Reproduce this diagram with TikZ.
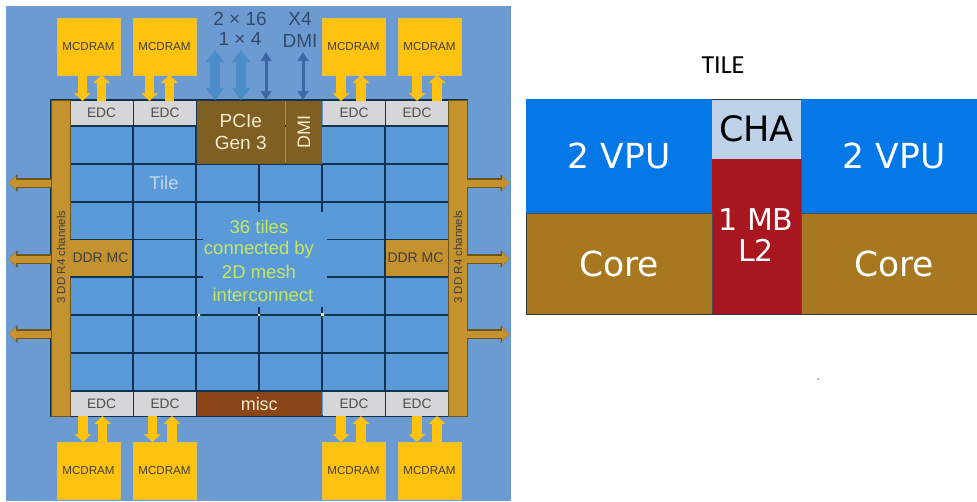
\documentclass[tikz,border=0pt]{standalone}
\usepackage{fontspec}
\setmainfont{Liberation Sans}
\newfontfamily\dvfont{DejaVu Sans}
\newfontfamily\crfont{Carlito}
\usetikzlibrary{arrows.meta,calc}
\newcommand{\fsz}[1]{\fontsize{#1}{#1}\selectfont}
\definecolor{bgblue}{HTML}{6C9BD2}
\definecolor{chipblue}{HTML}{5A9AD8}
\definecolor{gridc}{HTML}{12334F}
\definecolor{gold}{HTML}{C4922E}
\definecolor{golddark}{HTML}{6B5518}
\definecolor{brownbox}{HTML}{806022}
\definecolor{miscc}{HTML}{8B4516}
\definecolor{mcd}{HTML}{FFC20E}
\definecolor{mcdedge}{HTML}{E6BC4A}
\definecolor{edcc}{HTML}{D6D6D8}
\definecolor{cream}{HTML}{F2EBD0}
\definecolor{lime}{HTML}{C6E85E}
\definecolor{pcieb}{HTML}{4C8CC8}
\definecolor{dmib}{HTML}{3C68A6}
\definecolor{labc}{HTML}{34496B}
\definecolor{vpu}{HTML}{0578E8}
\definecolor{corec}{HTML}{A87820}
\definecolor{l2c}{HTML}{A81620}
\definecolor{chac}{HTML}{BDD2E8}
\tikzset{
  x=1pt,y=-1pt,
  every node/.style={inner sep=0pt,outer sep=0pt,align=center},
  boxnw/.style={anchor=north west,minimum width=#1},
  mcdram/.style={boxnw=63pt,minimum height=57pt,fill=mcd,draw=mcdedge,line width=.8pt,text=black!75,font=\fsz{11.6}},
  edc/.style={boxnw=62pt,minimum height=24pt,fill=edcc,text=black!70,font=\fsz{13.7}},
  memarrow/.style={mcd,line width=9.5pt,-{Triangle[width=16.5pt,length=8pt]}},
  pciearrow/.style={pcieb,line width=10pt,{Triangle[width=17.5pt,length=12pt]}-{Triangle[width=17.5pt,length=12pt]}},
  dmiarrow/.style={dmib,line width=3pt,{Triangle[width=10.5pt,length=9pt]}-{Triangle[width=10.5pt,length=9pt]}},
  sidearrow/.style={preaction={draw=golddark,line width=10pt,-{Triangle[width=17pt,length=9pt]}},gold,line width=7pt,shorten >=1.5pt,-{Triangle[width=13.5pt,length=7.5pt]}},
  gridl/.style={gridc,line width=1.6pt},
  toplab/.style={text=labc,font=\fsz{19}},
  barlab/.style={rotate=90,text=black!75,font=\fsz{11.5}},
  meshlab/.style={text=lime,font=\fsz{18.5}},
  speck/.style={fill=lime!60!white}
}
\begin{document}
\begin{tikzpicture}
\useasboundingbox (0,0) rectangle (977,501);
\fill[bgblue] (6,6) rectangle (511,501);
\node[boxnw=416pt,minimum height=316pt,fill=chipblue,draw=gridc,line width=1.2pt] (chip) at (51,100) {};
% grid
\foreach \yy in {126,164,202,315,353,391} \draw[gridl] (70,\yy) -- (448,\yy);
\foreach \yy in {239.5,277} {\draw[gridl] (70,\yy) -- (203,\yy); \draw[gridl] (327,\yy) -- (448,\yy);}
\foreach \xx in {133,196,385} \draw[gridl] (\xx,100) -- (\xx,416);
\foreach \xx in {259,322} {\draw[gridl] (\xx,164) -- (\xx,212); \draw[gridl] (\xx,307) -- (\xx,391);}
\fill[speck] (198,314) rectangle (200,316) (258,314) rectangle (260,316) (321,313) rectangle (324,316);
% side bars
\node[boxnw=19pt,minimum height=316pt,fill=gold,draw=golddark,line width=1pt] (barL) at (51,100) {};
\node[boxnw=19pt,minimum height=316pt,fill=gold,draw=golddark,line width=1pt] (barR) at (448,100) {};
\node[barlab] at (61,257) {3 DD R4 channels};
\node[barlab] at (458,257) {3 DD R4 channels};
% EDC
\node[edc] (e1) at (70.5,101) {EDC};
\node[edc] (e2) at (134,101) {EDC};
\node[edc] (e3) at (323,101) {EDC};
\node[edc] (e4) at (386,101) {EDC};
\node[edc] (e5) at (70.5,392) {EDC};
\node[edc] (e6) at (134,392) {EDC};
\node[edc] (e7) at (323,392) {EDC};
\node[edc] (e8) at (386,392) {EDC};
% PCIe, DMI, misc
\node[boxnw=88.5pt,minimum height=63pt,fill=brownbox,text=cream,font=\fsz{19}] (pcie) at (196.5,100.5) {PCIe\\[2.5pt]Gen 3};
\node[boxnw=36pt,minimum height=63pt,fill=brownbox] (dmibox) at (286,100.5) {};
\node[rotate=90,text=cream,font=\fsz{18}] at (dmibox.center) {DMI};
\node[boxnw=125.5pt,minimum height=24pt,fill=miscc,text=cream,font=\fsz{18}] (misc) at (196.5,392) {misc};
% DDR MC
\node[boxnw=63pt,minimum height=37pt,fill=gold,text=black!75,font=\fsz{14}] (ddrL) at (70,239.5) {DDR MC\hspace{2pt}};
\node[boxnw=63pt,minimum height=37pt,fill=gold,text=black!75,font=\fsz{14}] (ddrR) at (385,239.5) {DDR MC\hspace{2pt}};
\draw[gridl] (ddrL.north west) -- (ddrL.north east) -- (ddrL.south east) -- (ddrL.south west);
\draw[gridl] (ddrR.south east) -- (ddrR.south west) -- (ddrR.north west) -- (ddrR.north east);
% MCDRAM
\node[mcdram] (m1) at (57,18) {MCDRAM};
\node[mcdram] (m2) at (133,18) {MCDRAM};
\node[mcdram] (m3) at (322,18) {MCDRAM};
\node[mcdram] (m4) at (398,18) {MCDRAM};
\node[mcdram] (m5) at (57,442) {MCDRAM};
\node[mcdram] (m6) at (133,442) {MCDRAM};
\node[mcdram] (m7) at (322,442) {MCDRAM};
\node[mcdram] (m8) at (398,442) {MCDRAM};
% memory arrows, top
\foreach \m/\e/\da/\ub in {m1/e1/-6/13,m2/e2/-15/5,m3/e3/-12.5/7.5,m4/e4/-12.5/7.5}{
  \draw[memarrow] ([xshift=\da pt]\m.south) -- ([xshift=\da pt]\m.south |- \e.north);
  \draw[memarrow] ([xshift=\ub pt]\m.south |- \e.north) -- ([xshift=\ub pt]\m.south);
}
% memory arrows, bottom
\foreach \m/\e/\da/\ub in {m5/e5/-5.5/14,m6/e6/-12/7.5,m7/e7/-12.5/7.5,m8/e8/-12.5/7.5}{
  \draw[memarrow] ([xshift=\da pt]\m.north |- \e.south) -- ([xshift=\da pt]\m.north);
  \draw[memarrow] ([xshift=\ub pt]\m.north) -- ([xshift=\ub pt]\m.north |- \e.south);
}
% side arrows
\coordinate (la) at (7,183); \coordinate (lb) at (7,259); \coordinate (lc) at (7,334);
\coordinate (ra) at (511,183); \coordinate (rb) at (511,259); \coordinate (rc) at (511,334);
\draw[sidearrow] (la -| barL.west) -- (la);
\draw[sidearrow] (lb -| barL.west) -- (lb);
\draw[sidearrow] (lc -| barL.west) -- (lc);
\draw[sidearrow] (ra -| barR.east) -- (ra);
\draw[sidearrow] (rb -| barR.east) -- (rb);
\draw[sidearrow] (rc -| barR.east) -- (rc);
% top labels and IO arrows
\node[toplab] (l216) at (240,19) {2 × 16};
\node[toplab] (l14) at (240,39) {1 × 4};
\node[toplab] (lx4) at (300,19) {X4};
\node[toplab] (ldmi) at (300,41) {DMI};
\coordinate (pa) at (215,50); \coordinate (pb) at (241,50);
\coordinate (da) at (266,52); \coordinate (db) at (303,52);
\draw[pciearrow] (pa) -- (pa |- chip.north);
\draw[pciearrow] (pb) -- (pb |- chip.north);
\draw[dmiarrow] (da) -- (da |- chip.north);
\draw[dmiarrow] (db) -- (db |- chip.north);
% texts in mesh
\node[text=black!10!chipblue!35!white,font=\fsz{18.5}] at (164,183) {Tile};
\node[meshlab] at (259,227) {36 tiles};
\node[meshlab] at (259,250) {connected by};
\node[meshlab] at (259,272) {2D mesh};
\node[meshlab] at (263,295) {interconnect};
% right panel
\node[font=\crfont\fsz{26},text=black] at (723,65) {TILE};
\node[anchor=north west,minimum width=186pt,minimum height=114pt,fill=vpu,text=white,font=\dvfont\fsz{34.5}] (v1) at (526,99) {2 VPU};
\node[anchor=north west,minimum width=176pt,minimum height=114pt,fill=vpu,text=white,font=\dvfont\fsz{34.5}] (v2) at (801,99) {\hspace{10pt}2 VPU};
\node[anchor=north west,minimum width=186pt,minimum height=101pt,fill=corec,text=white,font=\dvfont\fsz{34.5}] (c1) at (526,213) {Core};
\node[anchor=north west,minimum width=176pt,minimum height=101pt,fill=corec,text=white,font=\dvfont\fsz{34.5}] (c2) at (801,213) {\hspace{10pt}Core};
\node[anchor=north west,minimum width=89pt,minimum height=60pt,fill=chac,text=black,font=\dvfont\fsz{35}] (cha) at (712,99) {CHA};
\node[anchor=north west,minimum width=89pt,minimum height=155pt,fill=l2c] (l2) at (712,159) {};
\node[text=white,font=\dvfont\fsz{30}] (l2t1) at (756,220) {1 MB};
\node[text=white,font=\dvfont\fsz{30}] (l2t2) at (756,250) {L2};
\draw[black!80,line width=.8pt] (526,213) -- (526,314) -- (977,314);
\draw[black!70,line width=.6pt] (526,213) -- (712,213) (801,213) -- (977,213);
\draw[black!70,line width=.6pt] (712,213) -- (712,314) (801,159) -- (801,314);
\draw[black!80,line width=.6pt] (712,99) -- (801,99);
\fill[black!60] (818,379) circle (.8);
\end{tikzpicture}
\end{document}
